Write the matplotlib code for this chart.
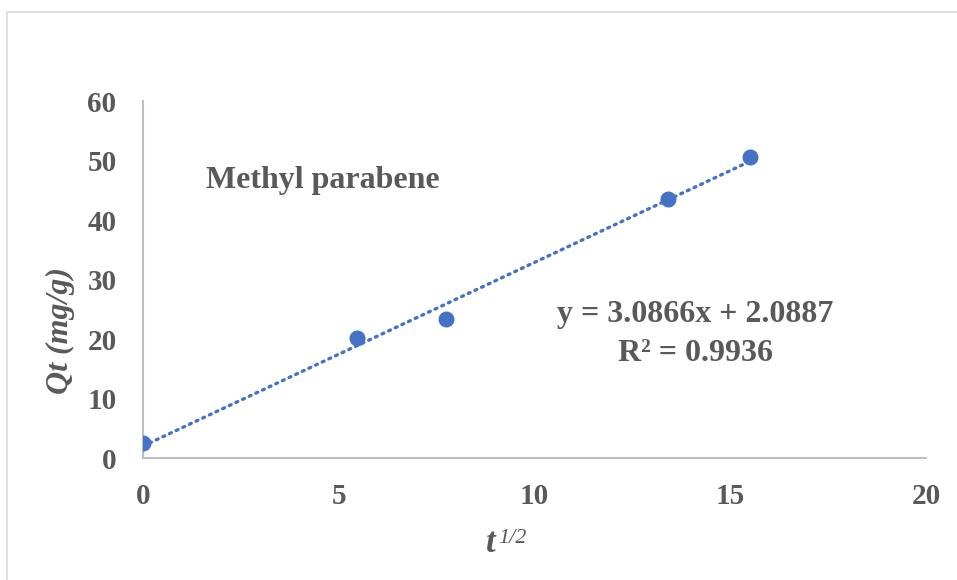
import numpy as np
import matplotlib
matplotlib.use('Agg')
import matplotlib.pyplot as plt
from matplotlib.patches import Rectangle

# sorption kinetics, intraparticle diffusion plot
t_half = [0, 5.477, 7.746, 13.416, 15.492]
qt = [2.6, 20.2, 23.4, 43.6, 50.7]

slope = 3.0866
intercept = 2.0887
r2 = 0.9936

BLUE = '#4472C4'
GREY = '#595959'

plt.rcParams['font.family'] = ['Liberation Serif', 'DejaVu Serif']

fig = plt.figure(figsize=(9.57, 5.8), dpi=100)
fig.patches.append(Rectangle((0.007, -0.02), 1.1, 0.9995, transform=fig.transFigure,
                             fill=False, edgecolor='#d9d9d9', linewidth=1.2))
ax = fig.add_axes([0.1494, 0.2095, 0.8182, 0.6155])

ax.plot(t_half, qt, 'o', color=BLUE, markersize=10.5, zorder=3)
xfit = np.array([t_half[0], t_half[-1]])
ax.plot(xfit, slope * xfit + intercept, linestyle=(0, (0.6, 1.6)), color=BLUE,
        linewidth=2.4, dash_capstyle='round', zorder=2)

ax.set_xlim(0, 20)
ax.set_ylim(0, 60)
ax.set_xticks([0, 5, 10, 15, 20])
ax.set_yticks(range(0, 61, 10))
for s in ['top', 'right']:
    ax.spines[s].set_visible(False)
for s in ['left', 'bottom']:
    ax.spines[s].set_color('#bfbfbf')
    ax.spines[s].set_linewidth(1.5)
ax.tick_params(length=0, labelsize=21, labelcolor=GREY)
ax.tick_params(axis='y', pad=19)
ax.tick_params(axis='x', pad=18)
for lab in ax.get_xticklabels() + ax.get_yticklabels():
    lab.set_fontweight('bold')

ax.text(1.6, 46.8, 'Methyl parabene', fontsize=23, fontweight='bold',
        color=GREY, va='center', ha='left')
ax.text(14.1, 24.2, 'y = %.4fx + %.4f' % (slope, intercept), fontsize=23,
        fontweight='bold', color=GREY, ha='center', va='center')
ax.text(14.1, 17.6, 'R² = %.4f' % r2, fontsize=23,
        fontweight='bold', color=GREY, ha='center', va='center')

fig.text(0.063, 0.43, 'Qt (mg/g)', rotation=90, fontsize=23, fontweight='bold',
         style='italic', color=GREY, ha='center', va='center')
fig.text(0.518, 0.048, 't', fontsize=25, fontweight='bold', style='italic',
         color=GREY, ha='right', va='baseline')
fig.text(0.521, 0.064, '1/2', fontsize=16, style='italic',
         color=GREY, ha='left', va='baseline')

fig.savefig('out.png', dpi=100)
